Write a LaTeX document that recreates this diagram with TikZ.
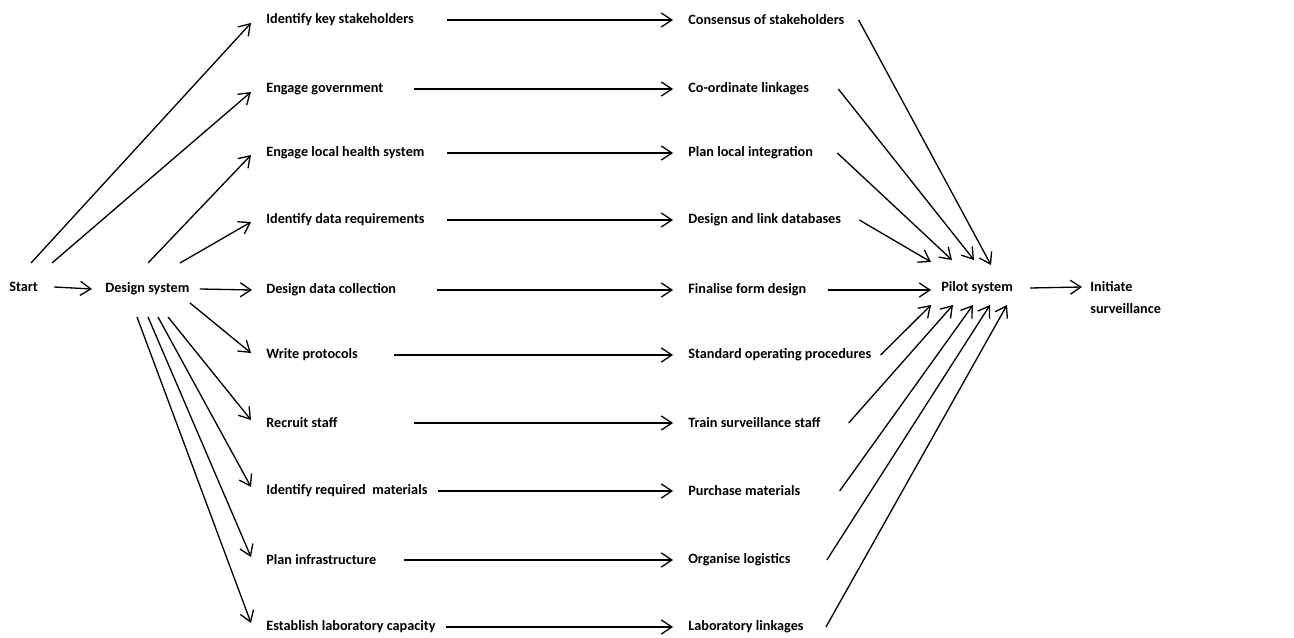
\documentclass[tikz,border=0pt]{standalone}
\usepackage{fontspec}
\setmainfont{Carlito}
\usetikzlibrary{arrows.meta}

\begin{document}
\begin{tikzpicture}[x=0.02cm, y=-0.02cm,
    txt/.style={anchor=west, inner sep=0pt, font=\bfseries\fontsize{8.1}{9.6}\selectfont},
    arr/.style={-{Straight Barb[length=6pt,width=8pt]}, line width=0.75pt}]
    \useasboundingbox (0,0) rectangle (1294,638);

    % Start, design, pilot and end nodes
    \node[txt] (start) at (9,287) {Start};
    \node[txt] (design) at (105,289) {Design system};
    \node[txt] (pilot) at (941,288) {Pilot system};
    \node[txt, align=left, font=\bfseries\fontsize{8.1}{12.5}\selectfont] (init) at (1090,298) {Initiate\\surveillance};

    % Define positions of the first column of tasks
    \foreach \y/\lab [count=\i] in {20/Identify key stakeholders, 89/Engage government,
        153/Engage local health system, 220/Identify data requirements,
        290/Design data collection, 355/Write protocols, 423/Recruit staff,
        491/Identify required\ \ materials, 560/Plan infrastructure,
        627/Establish laboratory capacity} {
        \node[txt] (l\i) at (266,\y) {\lab};
    }

    % Define positions of the second column of tasks
    \foreach \y/\lab [count=\i] in {20/Consensus of stakeholders, 89/Co-ordinate linkages,
        153/Plan local integration, 220/Design and link databases,
        290/Finalise form design, 355/Standard operating procedures,
        423/Train surveillance staff, 491/Purchase materials,
        560/Organise logistics, 627/Laboratory linkages} {
        \node[txt] (r\i) at (688,\y) {\lab};
    }

    % start and design system arrows
    \draw[arr] ([shift={(16,0)}]start.east) -- ([shift={(-13,0)}]design.west);
    \draw[arr] ([shift={(22,-24)}]start.west) -- ([shift={(-15,3)}]l1.west);
    \draw[arr] ([shift={(43,-24)}]start.west) -- ([shift={(-15,3)}]l2.west);
    \draw[arr] ([shift={(43,-26)}]design.west) -- ([shift={(-15,2)}]l3.west);
    \draw[arr] ([shift={(75,-26)}]design.west) -- ([shift={(-15,2)}]l4.west);
    \draw[arr] ([shift={(10,0)}]design.east) -- ([shift={(-14,0)}]l5.west);
    \draw[arr] ([shift={(85,14)}]design.west) -- ([shift={(-15,-2)}]l6.west);
    \draw[arr] ([shift={(63,28)}]design.west) -- ([shift={(-15,-3)}]l7.west);
    \draw[arr] ([shift={(53,28)}]design.west) -- ([shift={(-15,-4)}]l8.west);
    \draw[arr] ([shift={(43,28)}]design.west) -- ([shift={(-15,-3)}]l9.west);
    \draw[arr] ([shift={(32,28)}]design.west) -- ([shift={(-15,-4)}]l10.west);

    % arrows between the two columns
    \foreach \i/\g in {1/33, 2/30, 3/22, 4/22, 5/41, 6/36, 7/76, 8/10, 9/27, 10/10} {
        \draw[arr] ([shift={(\g,0)}]l\i.east) -- ([shift={(-15,0)}]r\i.west);
    }

    % arrows into the pilot system
    \foreach \i/\g/\dx/\dy in {1/14/50/-23, 2/29/33/-28, 3/24/11/-28, 4/18/-10/-26,
        5/21/-10/2, 6/9/-10/17, 7/28/12/17, 8/39/32/17, 9/36/49/17, 10/22/66/17} {
        \draw[arr] ([shift={(\g,0)}]r\i.east) -- ([shift={(\dx,\dy)}]pilot.west);
    }

    \draw[arr] ([shift={(17,0)}]pilot.east) -- ([shift={(-8,-11)}]init.west);
\end{tikzpicture}
\end{document}
